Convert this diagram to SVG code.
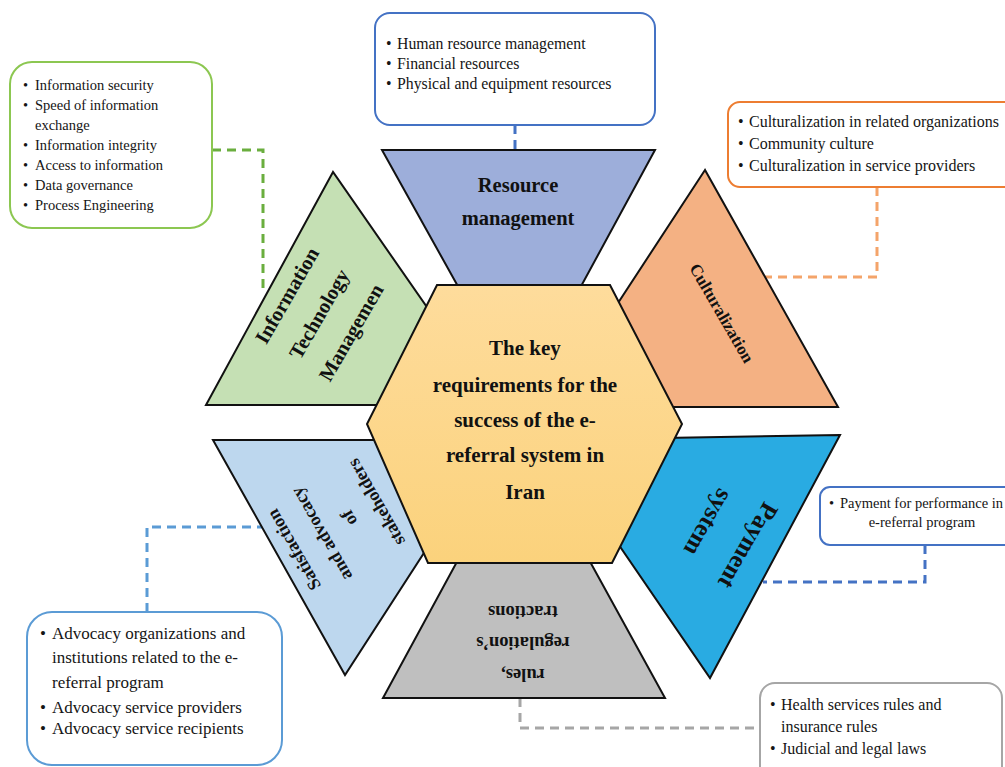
<svg xmlns="http://www.w3.org/2000/svg" width="1005" height="767" viewBox="0 0 1005 767">
<defs>
<linearGradient id="hexg" x1="0" y1="0" x2="0" y2="1">
<stop offset="0" stop-color="#FEDC9C"/>
<stop offset="1" stop-color="#FBD27C"/>
</linearGradient>
<style>
.shape{stroke:#111;stroke-width:2;stroke-linejoin:miter}
.lbl{font-family:"Liberation Serif","Times New Roman",serif;font-weight:bold;fill:#111;text-anchor:middle}
.box{fill:#fff;stroke-width:2}
.bt{font-family:"Liberation Serif","Times New Roman",serif;fill:#151515}
.con{fill:none;stroke-width:3;stroke-dasharray:9 6}
</style>
</defs>
<rect width="1005" height="767" fill="#fff"/>

<g id="connectors">
<path class="con" d="M212,150 H263 V290" stroke="#6AAE3E"/>
<path class="con" d="M515,125 V150" stroke="#4472C4" stroke-dasharray="6 4"/>
<path class="con" d="M877,187 V277 H765" stroke="#F4A46A" stroke-width="1.5" stroke-dasharray="7 4"/>
<path class="con" d="M925,545 V582 H763" stroke="#4472C4"/>
<path class="con" d="M147,612 V527 H262" stroke="#5B9BD5"/>
<path class="con" d="M520,698 V728 H760" stroke="#A6A6A6"/>
</g>

<g id="node-resource">
<polygon class="shape" points="382,150 655,150 579,290 460,290" fill="#9DAEDA"/>
<text class="lbl" font-size="20.5" x="518" y="192">Resource</text>
<text class="lbl" font-size="20.5" x="518" y="225">management</text>
</g>

<g id="node-it">
<polygon class="shape" points="333,172 206,405 495,405" fill="#C5E0B4"/>
<g transform="translate(319,314) rotate(-60)">
<text class="lbl" font-size="20.5" x="0" y="-30">Information</text>
<text class="lbl" font-size="20.5" x="0" y="7">Technology</text>
<text class="lbl" font-size="20.5" x="0" y="44">Managemen</text>
</g>
</g>

<g id="node-culturalization">
<polygon class="shape" points="705,170 550,407 838,407" fill="#F4B183"/>
<g transform="translate(722,313) rotate(60)">
<text class="lbl" font-size="17" x="0" y="6">Culturalization</text>
</g>
</g>

<g id="node-payment">
<polygon class="shape" points="840,435 547,440 710,678" fill="#29ABE2"/>
<g transform="translate(728,534) rotate(120)">
<text class="lbl" font-size="25" x="0" y="-15">Payment</text>
<text class="lbl" font-size="25" x="0" y="31">system</text>
</g>
</g>

<g id="node-rules">
<polygon class="shape" points="459,558 588,558 665,698 383,698" fill="#BFBFBF"/>
<g transform="translate(523,643) rotate(180)">
<text class="lbl" font-size="18.5" x="0" y="-25.5">rules,</text>
<text class="lbl" font-size="18.5" x="0" y="6">regulation’s</text>
<text class="lbl" font-size="18.5" x="0" y="37.5">tractions</text>
</g>
</g>

<g id="node-satisfaction">
<polygon class="shape" points="213,440 497,440 345,675" fill="#BDD7EE"/>
<g transform="translate(335,526) rotate(-120)">
<text class="lbl" font-size="18" x="0" y="-41.5">Satisfaction</text>
<text class="lbl" font-size="18" x="0" y="-9.8">and advocacy</text>
<text class="lbl" font-size="18" x="0" y="21.8">of</text>
<text class="lbl" font-size="18" x="0" y="53.5">stakeholders</text>
</g>
</g>

<g id="node-center">
<polygon class="shape" points="437,285 610,285 682,424 612,563 428,563 367,424" fill="url(#hexg)"/>
<text class="lbl" font-size="21" x="525" y="355">The key</text>
<text class="lbl" font-size="21" x="525" y="392">requirements for the</text>
<text class="lbl" font-size="21" x="525" y="427">success of the e-</text>
<text class="lbl" font-size="21" x="525" y="462">referral system in</text>
<text class="lbl" font-size="21" x="525" y="499">Iran</text>
</g>

<g id="box-it">
<rect class="box" x="10" y="62" width="202" height="166" rx="22" stroke="#8CC751"/>
<text class="bt" font-size="14.5">
<tspan x="23" y="90">•</tspan><tspan x="35" y="90">Information security</tspan>
<tspan x="23" y="110">•</tspan><tspan x="35" y="110">Speed of information</tspan>
<tspan x="35" y="130">exchange</tspan>
<tspan x="23" y="150">•</tspan><tspan x="35" y="150">Information integrity</tspan>
<tspan x="23" y="170">•</tspan><tspan x="35" y="170">Access to information</tspan>
<tspan x="23" y="190">•</tspan><tspan x="35" y="190">Data governance</tspan>
<tspan x="23" y="210">•</tspan><tspan x="35" y="210">Process Engineering</tspan>
</text>
</g>

<g id="box-resource">
<rect class="box" x="375" y="13" width="280" height="112" rx="15" stroke="#4472C4"/>
<text class="bt" font-size="15.8">
<tspan x="386" y="49">•</tspan><tspan x="397" y="49">Human resource management</tspan>
<tspan x="386" y="69">•</tspan><tspan x="397" y="69">Financial resources</tspan>
<tspan x="386" y="89">•</tspan><tspan x="397" y="89">Physical and equipment resources</tspan>
</text>
</g>

<g id="box-culturalization">
<rect class="box" x="728" y="102" width="300" height="85" rx="12" stroke="#ED7D31"/>
<text class="bt" font-size="16">
<tspan x="738" y="127">•</tspan><tspan x="749" y="127">Culturalization in related organizations</tspan>
<tspan x="738" y="149">•</tspan><tspan x="749" y="149">Community culture</tspan>
<tspan x="738" y="171">•</tspan><tspan x="749" y="171">Culturalization in service providers</tspan>
</text>
</g>

<g id="box-payment">
<rect class="box" x="820" y="487" width="200" height="58" rx="10" stroke="#4472C4"/>
<text class="bt" font-size="14.5">
<tspan x="829" y="508">•</tspan><tspan x="840" y="508">Payment for performance in</tspan>
</text>
<text class="bt" font-size="14.5" x="922" y="527" text-anchor="middle">e-referral program</text>
</g>

<g id="box-rules">
<rect class="box" x="760" y="683" width="242" height="100" rx="15" stroke="#A6A6A6"/>
<text class="bt" font-size="16">
<tspan x="770" y="710">•</tspan><tspan x="781" y="710">Health services rules and</tspan>
<tspan x="781" y="732">insurance rules</tspan>
<tspan x="770" y="754">•</tspan><tspan x="781" y="754">Judicial and legal laws</tspan>
</text>
</g>

<g id="box-satisfaction">
<rect class="box" x="27" y="612" width="255" height="153" rx="25" stroke="#5B9BD5"/>
<text class="bt" font-size="17">
<tspan x="40" y="639">•</tspan><tspan x="52" y="639">Advocacy organizations and</tspan>
<tspan x="52" y="663">institutions related to the e-</tspan>
<tspan x="52" y="688">referral program</tspan>
<tspan x="40" y="713">•</tspan><tspan x="52" y="713">Advocacy service providers</tspan>
<tspan x="40" y="734">•</tspan><tspan x="52" y="734">Advocacy service recipients</tspan>
</text>
</g>
</svg>
